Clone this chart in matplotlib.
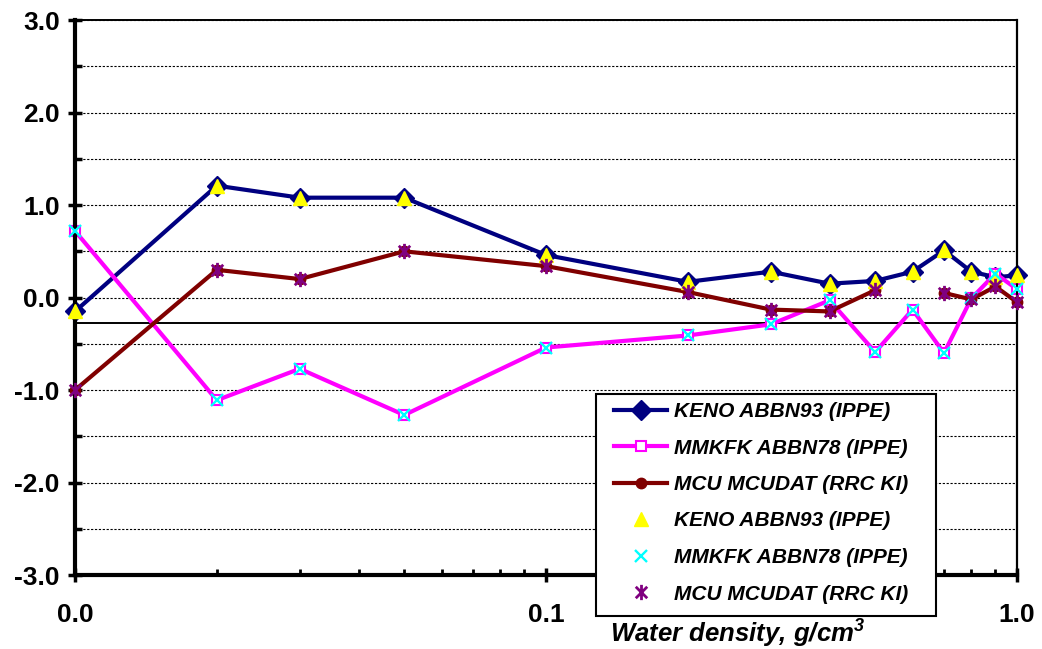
import matplotlib.pyplot as plt
import numpy as np
from matplotlib.path import Path
from matplotlib.patches import Rectangle
from matplotlib.ticker import LogLocator, MultipleLocator, NullFormatter, FormatStrFormatter

plt.rcParams['font.family'] = ['Liberation Sans', 'DejaVu Sans']
plt.rcParams['axes.unicode_minus'] = False

# water density, g/cm3
density = [0.01, 0.02, 0.03, 0.05, 0.1, 0.2, 0.3, 0.4, 0.5, 0.6, 0.7, 0.8, 0.9, 1.0]
keno = [-0.15, 1.21, 1.08, 1.08, 0.46, 0.17, 0.28, 0.15, 0.18, 0.28, 0.51, 0.28, 0.22, 0.24]
mmkfk = [0.72, -1.11, -0.77, -1.27, -0.54, -0.41, -0.29, -0.03, -0.59, -0.13, -0.60, -0.01, 0.26, 0.09]
mcu = [-1.0, 0.30, 0.20, 0.50, 0.34, 0.06, -0.13, -0.15, 0.08, np.nan, 0.05, -0.02, 0.12, -0.05]
ref_level = -0.27

x_ticks = [0.01, 0.1, 1.0]
x_labels = ['0.0', '0.1', '1.0']
names = ['KENO ABBN93 (IPPE)', 'MMKFK ABBN78 (IPPE)', 'MCU MCUDAT (RRC KI)']

# asterisk marker: vertical stroke plus an x
star = Path([(0, -1), (0, 1), (-0.75, -0.75), (0.75, 0.75), (-0.75, 0.75), (0.75, -0.75)],
            [Path.MOVETO, Path.LINETO] * 3)

fig = plt.figure(figsize=(10.42, 6.49), dpi=100)
ax = fig.add_axes([0.072, 0.114, 0.904, 0.855])

ax.axhline(ref_level, color='black', lw=1.4, zorder=1.5)

h1, = ax.plot(density, keno, color='#000080', lw=3, marker='D', ms=10, clip_on=False, zorder=2)
h2, = ax.plot(density, mmkfk, color='#FF00FF', lw=3, marker='s', ms=7.5, mfc='white', mec='#FF00FF',
              mew=1.5, clip_on=False, zorder=2)
h3, = ax.plot(density, mcu, color='#800000', lw=3, marker='o', ms=7.5, clip_on=False, zorder=2)
h4, = ax.plot(density, keno, ls='none', marker='^', ms=10.5, color='#FFFF00', clip_on=False, zorder=3)
h5, = ax.plot(density, mmkfk, ls='none', marker='x', ms=9, mew=1.7, color='#00FFFF', clip_on=False, zorder=3)
h6, = ax.plot(density, mcu, ls='none', marker=star, ms=11, mew=2, mfc='none', color='#800080',
              clip_on=False, zorder=3)

ax.set_xscale('log')
ax.set_xlim(0.01, 1.0)
ax.set_ylim(-3, 3)

ax.set_xticks(x_ticks)
ax.set_xticklabels(x_labels, fontweight='bold', fontsize=19)
ax.xaxis.set_minor_locator(LogLocator(base=10, subs=np.arange(2, 10)))
ax.xaxis.set_minor_formatter(NullFormatter())

ax.set_yticks(np.arange(-3, 3.01, 1.0))
ax.yaxis.set_major_formatter(FormatStrFormatter('%.1f'))
ax.yaxis.set_minor_locator(MultipleLocator(0.5))
for lbl in ax.get_yticklabels():
    lbl.set_fontweight('bold')
    lbl.set_fontsize(19)

ax.yaxis.grid(True, which='both', ls=(0, (2, 1.5)), color='black', lw=0.8)
ax.set_axisbelow(True)

ax.tick_params(axis='y', which='major', direction='inout', length=10, width=2.5, pad=6)
ax.tick_params(axis='y', which='minor', direction='in', length=5, width=2.5)
ax.tick_params(axis='x', which='major', direction='inout', length=10, width=2.5, pad=15)
ax.tick_params(axis='x', which='minor', direction='in', length=4, width=2)

ax.spines['left'].set_linewidth(3)
ax.spines['bottom'].set_linewidth(3)
ax.spines['top'].set_linewidth(1.4)
ax.spines['right'].set_linewidth(1.6)

# legend box sits over the lower right corner of the plot
fig.add_artist(Rectangle((596 / 1042, 1 - 616 / 649), 340 / 1042, 222 / 649, transform=fig.transFigure,
                         facecolor='white', edgecolor='black', lw=1.5, zorder=4))
fig.legend([h1, h2, h3, h4, h5, h6], names + names, loc='upper left',
           bbox_to_anchor=(614 / 1042, 1 - 402 / 649), frameon=False, borderpad=0, borderaxespad=0,
           prop=dict(weight='bold', style='italic', size=15), handlelength=2.55,
           labelspacing=0.84, handletextpad=0.35, numpoints=1).set_zorder(5)

fig.text(610 / 1042, 1 - 633 / 649, r'Water density, g/cm$^\mathregular{3}$', ha='left', va='center',
         fontsize=18.5, fontweight='bold', fontstyle='italic')

plt.savefig('out.png', dpi=100)
